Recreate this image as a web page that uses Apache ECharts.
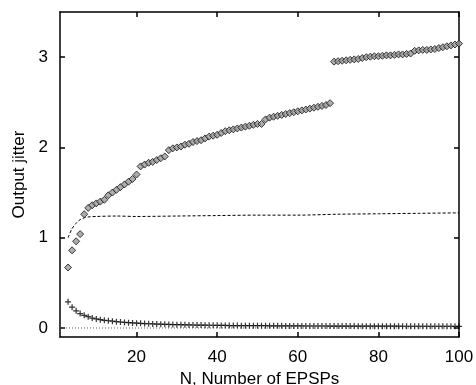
<!DOCTYPE html>
<html>
<head>
<meta charset="utf-8">
<script src="https://cdn.jsdelivr.net/npm/echarts@6/dist/echarts.min.js"></script>
<style>html,body{margin:0;padding:0;background:#fff}#c{width:476px;height:385px}</style>
</head>
<body>
<div id="c"></div>
<script>
var nValues = [3,4,5,6,7,8,9,10,11,12,13,14,15,16,17,18,19,20,21,22,23,24,25,26,27,28,29,30,31,32,33,34,35,36,37,38,39,40,41,42,43,44,45,46,47,48,49,50,51,52,53,54,55,56,57,58,59,60,61,62,63,64,65,66,67,68,69,70,71,72,73,74,75,76,77,78,79,80,81,82,83,84,85,86,87,88,89,90,91,92,93,94,95,96,97,98,99,100];
var jitterDiamonds = [0.67,0.86,0.96,1.04,1.26,1.33,1.36,1.38,1.40,1.42,1.47,1.50,1.53,1.56,1.59,1.62,1.65,1.70,1.79,1.81,1.83,1.84,1.86,1.88,1.90,1.97,1.99,2.00,2.01,2.03,2.04,2.06,2.07,2.08,2.10,2.12,2.13,2.14,2.16,2.18,2.19,2.20,2.21,2.22,2.23,2.24,2.25,2.26,2.26,2.31,2.33,2.34,2.35,2.36,2.37,2.38,2.39,2.40,2.41,2.42,2.43,2.44,2.45,2.46,2.47,2.49,2.95,2.955,2.96,2.965,2.97,2.975,2.98,2.99,3.00,3.005,3.01,3.01,3.015,3.02,3.02,3.025,3.03,3.03,3.035,3.04,3.07,3.075,3.08,3.08,3.085,3.09,3.10,3.11,3.12,3.13,3.14,3.15];
var jitterCrosses = [0.29,0.23,0.19,0.16,0.14,0.125,0.11,0.10,0.092,0.085,0.08,0.075,0.07,0.066,0.062,0.059,0.056,0.053,0.051,0.049,0.047,0.045,0.043,0.042,0.040,0.039,0.038,0.037,0.036,0.035,0.034,0.033,0.032,0.032,0.031,0.030,0.030,0.029,0.028,0.028,0.027,0.027,0.027,0.026,0.026,0.026,0.025,0.025,0.025,0.025,0.024,0.024,0.024,0.024,0.023,0.023,0.023,0.023,0.023,0.022,0.022,0.022,0.022,0.022,0.022,0.021,0.021,0.021,0.021,0.021,0.021,0.021,0.020,0.020,0.020,0.020,0.020,0.020,0.020,0.020,0.020,0.020,0.020,0.019,0.019,0.019,0.019,0.019,0.019,0.019,0.019,0.019,0.019,0.019,0.019,0.019,0.018,0.018];
var dashedN = [3,4,5,6,7,8,10,15,20,30,40,50,60,70,80,90,100];
var dashedValues = [1.00,1.10,1.16,1.20,1.22,1.23,1.235,1.24,1.235,1.24,1.245,1.25,1.25,1.26,1.265,1.27,1.275];
var zeroN = [1,100];
var zeroValues = [0,0];
var xTicks = [20,40,60,80,100];
var yTicks = [0,1,2,3];

function pairs(xs, ys){ return xs.map(function(x,i){ return [x, ys[i]]; }); }

var font = 'Liberation Sans, Arial, Helvetica, sans-serif';
var chart = echarts.init(document.getElementById('c'), null, {renderer:'canvas'});
var lineSt = {color:'#000', width:1.5};
chart.setOption({
  animation:false,
  backgroundColor:'#fff',
  grid:{left:60, right:17, top:12, bottom:48, show:false, containLabel:false, outerBoundsMode:'none'},
  xAxis:[{
    type:'value', min:1, max:100, position:'bottom',
    name:'N, Number of EPSPs', nameLocation:'middle', nameGap:28,
    nameTextStyle:{color:'#000', fontSize:17, fontFamily:font},
    axisLine:{show:true, onZero:false, lineStyle:lineSt},
    axisTick:{show:true, inside:true, length:5, customValues:xTicks, lineStyle:lineSt},
    axisLabel:{show:true, customValues:xTicks, color:'#000', fontSize:17, fontFamily:font, margin:12},
    splitLine:{show:false}
  },{
    type:'value', min:1, max:100, position:'top',
    axisLine:{show:true, onZero:false, lineStyle:lineSt},
    axisTick:{show:true, inside:true, length:5, customValues:xTicks, lineStyle:lineSt},
    axisLabel:{show:false},
    splitLine:{show:false}
  }],
  yAxis:[{
    type:'value', min:-0.1, max:3.5, position:'left',
    name:'Output jitter', nameLocation:'middle', nameGap:27,
    nameTextStyle:{color:'#000', fontSize:17, fontFamily:font},
    axisLine:{show:true, onZero:false, lineStyle:lineSt},
    axisTick:{show:true, inside:true, length:5, customValues:yTicks, lineStyle:lineSt},
    axisLabel:{show:true, customValues:yTicks, color:'#000', fontSize:17, fontFamily:font, margin:12},
    splitLine:{show:false}
  },{
    type:'value', min:-0.1, max:3.5, position:'right',
    axisLine:{show:true, onZero:false, lineStyle:lineSt},
    axisTick:{show:true, inside:true, length:5, customValues:yTicks, lineStyle:lineSt},
    axisLabel:{show:false},
    splitLine:{show:false}
  }],
  series:[{
    type:'line', data:pairs(zeroN, zeroValues), symbol:'none',
    lineStyle:{color:'#666', width:1, type:[1,2]}, z:1
  },{
    type:'line', data:pairs(dashedN, dashedValues), symbol:'none', smooth:0.3,
    lineStyle:{color:'#000', width:1, type:[3,2]}, z:2
  },{
    type:'scatter', data:pairs(nValues, jitterCrosses),
    symbol:'path://M2,0h1v2h2v1h-2v2h-1v-2h-2v-1h2z', symbolSize:[6,6],
    itemStyle:{color:'#000'}, z:3
  },{
    type:'scatter', data:pairs(nValues, jitterDiamonds),
    symbol:'diamond', symbolSize:[7,7],
    itemStyle:{color:'#999', borderColor:'#111', borderWidth:1}, z:4
  }]
});
</script>
</body>
</html>
